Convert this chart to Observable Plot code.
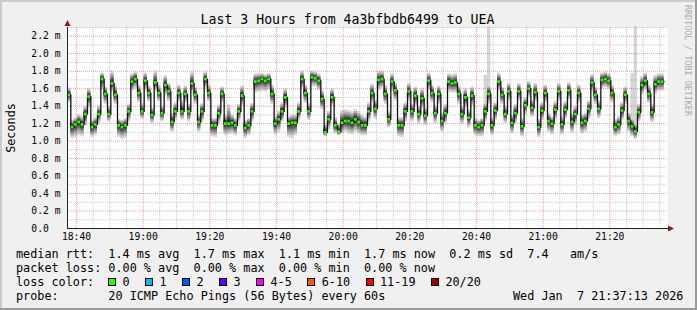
<!DOCTYPE html>
<html><head><meta charset="utf-8">
<script src="https://cdn.jsdelivr.net/npm/d3@7"></script>
<script src="https://cdn.jsdelivr.net/npm/@observablehq/plot@0.6"></script>
<style>
html,body{margin:0;padding:0;background:#f0f0f0;}
svg text{white-space:pre;}
</style>
</head><body>
<div id="chart"></div>
<script>
// ---- data (minutes after 18:00; one sample per minute) ----
const startMinute = 37.3; // 18:37:18
const spanMinutes = 180;
const median = [
1.53,1.16,1.19,1.22,1.19,1.31,1.51,1.16,1.19,1.31,
1.71,1.54,1.31,1.66,1.53,1.18,1.16,1.18,1.34,1.68,
1.71,1.55,1.34,1.69,1.55,1.30,1.67,1.55,1.32,1.64,
1.57,1.22,1.34,1.55,1.34,1.54,1.34,1.66,1.53,1.22,
1.34,1.71,1.55,1.18,1.18,1.32,1.54,1.20,1.20,1.21,
1.18,1.34,1.52,1.15,1.18,1.34,1.68,1.69,1.71,1.69,
1.71,1.54,1.20,1.25,1.34,1.50,1.20,1.21,1.21,1.34,
1.71,1.55,1.34,1.73,1.72,1.69,1.48,1.10,1.25,1.50,
1.18,1.11,1.21,1.23,1.23,1.21,1.25,1.22,1.18,1.18,
1.34,1.55,1.37,1.70,1.71,1.54,1.25,1.68,1.58,1.18,
1.18,1.34,1.57,1.34,1.52,1.31,1.49,1.29,1.69,1.55,
1.32,1.54,1.23,1.32,1.68,1.66,1.67,1.54,1.31,1.50,
1.27,1.52,1.18,1.16,1.18,1.34,1.54,1.18,1.35,1.68,
1.53,1.31,1.57,1.21,1.32,1.57,1.17,1.41,1.60,1.38,
1.56,1.16,1.35,1.55,1.23,1.20,1.36,1.57,1.19,1.36,
1.58,1.22,1.31,1.55,1.21,1.23,1.37,1.67,1.53,1.37,
1.70,1.71,1.69,1.55,1.16,1.19,1.35,1.53,1.23,1.17,
1.11,1.33,1.64,1.69,1.54,1.33,1.65,1.68,1.68];
const hi = [
1.61,1.24,1.27,1.30,1.28,1.40,1.60,1.24,1.27,1.40,
1.78,1.62,1.40,1.80,1.63,1.25,1.24,1.26,1.42,1.77,
1.79,1.64,1.42,1.78,1.63,1.38,1.80,1.64,1.40,1.75,
1.66,1.32,1.44,1.64,1.46,1.63,1.42,1.79,1.62,1.30,
1.43,1.79,1.64,1.26,1.26,1.41,1.62,1.30,1.42,1.30,
1.26,1.42,1.63,1.24,1.26,1.43,1.77,1.77,1.77,1.76,
1.77,1.64,1.28,1.34,1.44,1.60,1.28,1.30,1.30,1.44,
1.80,1.64,1.43,1.80,1.79,1.77,1.58,1.20,1.34,1.60,
1.27,1.20,1.35,1.36,1.35,1.34,1.36,1.34,1.30,1.28,
1.44,1.65,1.47,1.80,1.80,1.64,1.34,1.77,1.66,1.27,
1.27,1.44,1.66,1.42,1.62,1.40,1.60,1.38,1.78,1.64,
1.40,1.63,1.32,1.42,1.77,1.76,1.77,1.63,1.40,1.60,
1.36,1.62,1.26,1.24,1.26,1.44,1.64,1.27,1.44,1.78,
1.62,1.40,1.66,1.30,1.42,1.66,1.26,1.50,1.68,1.47,
1.66,1.25,1.44,1.64,1.32,1.28,1.45,1.66,1.28,1.45,
1.67,1.31,1.40,1.64,1.30,1.32,1.46,1.76,1.62,1.46,
1.78,1.79,1.77,1.64,1.25,1.28,1.44,1.62,1.32,1.26,
1.20,1.42,1.74,1.78,1.64,1.42,1.75,1.77,1.77];
const lo = [
1.44,1.03,1.04,1.06,1.05,1.17,1.38,1.04,1.06,1.20,
1.58,1.42,1.22,1.56,1.42,1.04,1.02,1.03,1.22,1.57,
1.60,1.44,1.25,1.58,1.45,1.20,1.57,1.45,1.22,1.52,
1.45,1.10,1.24,1.45,1.24,1.44,1.22,1.55,1.42,1.10,
1.22,1.60,1.45,1.05,1.04,1.20,1.44,1.06,1.07,1.08,
1.06,1.22,1.40,1.03,1.06,1.22,1.55,1.56,1.57,1.56,
1.58,1.42,1.07,1.10,1.22,1.38,1.04,1.03,1.06,1.24,
1.60,1.43,1.24,1.62,1.62,1.58,1.36,1.05,1.13,1.40,
1.08,1.06,1.08,1.10,1.08,1.07,1.10,1.08,1.06,1.06,
1.22,1.44,1.25,1.58,1.60,1.42,1.15,1.57,1.46,1.05,
1.04,1.22,1.46,1.22,1.40,1.20,1.38,1.18,1.58,1.44,
1.20,1.42,1.10,1.20,1.56,1.55,1.55,1.42,1.19,1.38,
1.15,1.40,1.06,1.05,1.05,1.22,1.42,1.06,1.24,1.57,
1.42,1.20,1.46,1.08,1.20,1.46,1.05,1.30,1.50,1.27,
1.45,1.04,1.24,1.44,1.10,1.07,1.24,1.46,1.07,1.25,
1.47,1.09,1.18,1.44,1.08,1.10,1.25,1.56,1.42,1.26,
1.60,1.61,1.59,1.44,1.05,1.07,1.24,1.42,1.10,1.05,
1.02,1.22,1.53,1.58,1.43,1.21,1.54,1.57,1.57];
const spikeIndex = [125, 126, 169, 170];
const spikeTop = [1.75, 2.31, 1.77, 2.31];

const xTickMinutes = [40, 60, 80, 100, 120, 140, 160, 180, 200];
const xTickLabels = ["18:40","19:00","19:20","19:40","20:00","20:20","20:40","21:00","21:20"];
const yTicks = [0, 0.2, 0.4, 0.6, 0.8, 1.0, 1.2, 1.4, 1.6, 1.8, 2.0, 2.2];
const yTickLabels = ["0.0\u00a0\u00a0","0.2\u00a0m","0.4\u00a0m","0.6\u00a0m","0.8\u00a0m","1.0\u00a0m","1.2\u00a0m","1.4\u00a0m","1.6\u00a0m","1.8\u00a0m","2.0\u00a0m","2.2\u00a0m"];

const lossLabels = ["0","1","2","3","4-5","6-10","11-19","20/20"];
const lossColors = ["#26ff00","#00b8ff","#0059ff","#5e00ff","#ff00ff","#ff5500","#ff0000","#a10000"];

const titleText = "Last 3 Hours from 4a3bfbdb6499 to UEA";
const yAxisTitle = "Seconds";
const creditText = "RRDTOOL / TOBI OETIKER";
const legendRtt = "median rtt:  1.4 ms avg  1.7 ms max  1.1 ms min  1.7 ms now  0.2 ms sd  7.4   am/s";
const legendLoss = "packet loss: 0.00 % avg  0.00 % max  0.00 % min  0.00 % now";
const legendLossTitle = "loss color:";
const legendProbe = "probe:       20 ICMP Echo Pings (56 Bytes) every 60s";
const stampText = "Wed Jan\u00a0\u00a07 21:37:13 2026";

// ---- build table ----
const topOf = i => { const k = spikeIndex.indexOf(i); return k >= 0 ? Math.max(hi[i], spikeTop[k]) : hi[i]; };
const rows = median.map((m, i) => ({t: startMinute + i, m, lo: lo[i], hi: hi[i], top: topOf(i)}));
const ext = rows.concat([{...rows[rows.length - 1], t: startMinute + rows.length}]);

const fractions = [1, 0.8, 0.62, 0.46, 0.32, 0.18];
const shades = ["#d6d6d6", "#b4b4b4", "#8e8e8e", "#6a6a6a", "#474747", "#2a2a2a"];

const minorX = d3.range(40, startMinute + spanMinutes, 5).filter(v => v % 20 !== 0);
const minorY = d3.range(1, 24).map(v => v / 10).filter(v => Math.round(v * 10) % 2 === 1);
const majorY = yTicks.filter(v => v > 0);

const FONT = "DejaVu Sans Mono, monospace";

const chart = Plot.plot({
  width: 697, height: 310,
  marginLeft: 67, marginRight: 30, marginTop: 27, marginBottom: 82,
  x: {domain: [startMinute, startMinute + spanMinutes], axis: null},
  y: {domain: [0, 2.3], axis: null},
  style: {background: "#f0f0f0", fontFamily: FONT, fontSize: "9.7px", color: "#000"},
  marks: [
    Plot.frame({fill: "#ffffff", stroke: "none"}),
    ...fractions.map((f, k) => Plot.areaY(ext, {
      x: "t",
      y1: d => k === 0 ? d.lo : d.m - (d.m - d.lo) * f,
      y2: d => k === 0 ? d.top : d.m + (d.hi - d.m) * f,
      curve: "step-after", fill: shades[k]
    })),
    Plot.ruleX(minorX, {stroke: "#8c8c8c", strokeOpacity: 0.45, strokeDasharray: "1,1"}),
    Plot.ruleY(minorY, {stroke: "#8c8c8c", strokeOpacity: 0.45, strokeDasharray: "1,1"}),
    Plot.ruleX(xTickMinutes, {stroke: "#e04040", strokeOpacity: 0.5, strokeDasharray: "1,1"}),
    Plot.ruleY(majorY, {stroke: "#e04040", strokeOpacity: 0.5, strokeDasharray: "1,1"}),
    Plot.line(ext, {x: "t", y: "m", curve: "step-after", stroke: "#111111", strokeWidth: 1.3}),
    Plot.ruleY(rows, {y: "m", x1: d => d.t + 0.08, x2: d => d.t + 0.92, stroke: lossColors[0], strokeWidth: 2.8}),
    Plot.ruleY([0], {stroke: "#222"}),
    Plot.ruleX([startMinute], {stroke: "#222"}),
    Plot.axisX(xTickMinutes, {label: null, tickFormat: d => xTickLabels[xTickMinutes.indexOf(d)], tickSize: 0, tickPadding: 5, fill: "#000"}),
    Plot.axisY(yTicks, {label: null, anchor: "left", tickFormat: d => yTickLabels[yTicks.indexOf(d)], tickSize: 0, tickPadding: 7, fill: "#000"})
  ]
});
document.getElementById("chart").appendChild(chart);

const X = chart.scale("x"), Y = chart.scale("y");
const svg = d3.select(chart);
const ax = X.apply(startMinute), ay = Y.apply(2.3);
const bx = X.apply(startMinute + spanMinutes), by = Y.apply(0);
// axis arrows
svg.append("path").attr("d", `M${ax + 0.5},${ay - 7}L${ax + 3.5},${ay - 1}L${ax - 2.5},${ay - 1}Z`).attr("fill", "#8b1a1a");
svg.append("path").attr("d", `M${bx + 7},${by + 0.5}L${bx + 1},${by + 3.5}L${bx + 1},${by - 2.5}Z`).attr("fill", "#8b1a1a");
svg.append("line").attr("x1", bx).attr("x2", bx + 2).attr("y1", by + 0.5).attr("y2", by + 0.5).attr("stroke", "#222");

// border shading
svg.append("rect").attr("x", 0).attr("y", 0).attr("width", 697).attr("height", 2).attr("fill", "#cbcbcb");
svg.append("rect").attr("x", 0).attr("y", 0).attr("width", 2).attr("height", 310).attr("fill", "#cbcbcb");
svg.append("rect").attr("x", 0).attr("y", 308).attr("width", 697).attr("height", 2).attr("fill", "#999999");
svg.append("rect").attr("x", 695).attr("y", 0).attr("width", 2).attr("height", 310).attr("fill", "#999999");

const txt = (x, y, s, size, opts = {}) => svg.append("text")
  .attr("x", x).attr("y", y).attr("text-anchor", opts.anchor || "start")
  .attr("transform", opts.transform || null)
  .attr("font-size", size).attr("font-family", FONT).attr("fill", opts.fill || "#000").text(s);

// title
txt(347.5, 24, titleText, 13.2, {anchor: "middle"});
// y axis title
txt(0, 0, yAxisTitle, 11.8, {anchor: "middle", transform: "translate(15,128) rotate(-90)"});
// credit
txt(0, 0, creditText, 8.4, {anchor: "start", transform: "translate(685,5) rotate(90)", fill: "#aaaaaa"});

// legend
const LFS = 11.8, CW = LFS * 0.602, LX = 16;
txt(LX, 258, legendRtt, LFS);
txt(LX, 272, legendLoss, LFS);
txt(LX, 286, legendLossTitle, LFS);
txt(LX, 300, legendProbe, LFS);
txt(513, 300, stampText, LFS);
let bxp = LX + 13 * CW - 0.2;
lossLabels.forEach((lab, k) => {
  svg.append("rect").attr("x", Math.round(bxp) + 0.5).attr("y", 278.5).attr("width", 7).attr("height", 7)
    .attr("fill", lossColors[k]).attr("stroke", "#000").attr("stroke-width", 1);
  const lx = bxp + 14.3;
  txt(lx, 286, lab, LFS);
  bxp = lx + lab.length * CW + 15.6;
});
</script>
</body></html>
